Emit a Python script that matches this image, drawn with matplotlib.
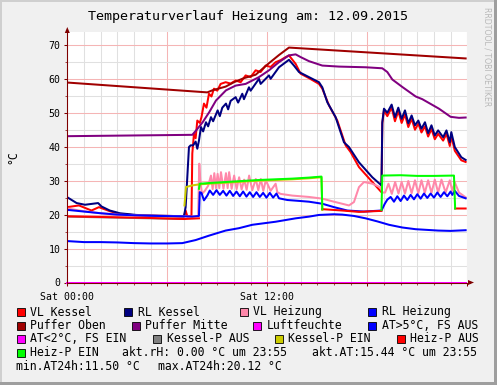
import numpy as np
import matplotlib
matplotlib.use("Agg")
import matplotlib.pyplot as plt
from matplotlib.ticker import MultipleLocator, FuncFormatter
from matplotlib.patches import Rectangle, Polygon
from matplotlib.lines import Line2D

nan = float('nan')

# ---------------- data (hours since Sat 00:00, value in °C) ----------------
vl_kessel = [(0, 22.2), (0.7, 22.7), (1.45, 21.2), (1.9, 22.2), (2.0, 22.0), (2.55, 21.0), (3.15, 20.2),
             (4.1, 19.8), (5.5, 19.6), (7.0, 19.4), (7.1, 21.2), (7.2, 19.5), (7.45, 19.6), (7.5, 38.0),
             (7.6, 43.8), (7.7, 42.5), (7.8, 47.7), (7.95, 47.0), (8.05, 48.7), (8.2, 52.7), (8.35, 51.5),
             (8.5, 55.6), (8.65, 54.8), (8.8, 57.1), (9.0, 56.5), (9.2, 58.5), (9.5, 59.0), (9.8, 58.6),
             (10.1, 59.5), (10.4, 59.0), (10.7, 61.0), (11.0, 60.5), (11.3, 62.5), (11.6, 62.0), (11.9, 63.9),
             (12.2, 63.5), (12.5, 64.9), (12.8, 65.5), (13.1, 66.4), (13.3, 66.9), (13.7, 64.4), (14.0, 61.5),
             (14.5, 60.2), (15.1, 58.5), (15.3, 57.1), (15.7, 52.2), (16.2, 47.7), (16.7, 40.4), (17.0, 38.4),
             (17.5, 34.0), (18.3, 29.6), (18.85, 26.6), (18.9, 46.8), (19.0, 50.7), (19.2, 49.0), (19.46, 51.5),
             (19.66, 47.5), (19.86, 50.5), (20.06, 47.0), (20.26, 49.5), (20.46, 45.8), (20.66, 48.2),
             (20.86, 45.0), (21.06, 46.8), (21.25, 44.2), (21.46, 46.0), (21.65, 43.0), (21.85, 45.2),
             (22.05, 42.2), (22.25, 43.8), (22.55, 41.8), (22.75, 43.8), (22.95, 40.2), (23.04, 43.2),
             (23.25, 38.8), (23.64, 36.0), (23.9, 35.5)]

rl_kessel = [(0, 25.1), (0.56, 23.4), (1.06, 22.9), (1.85, 23.4), (2.05, 22.4), (2.55, 21.2), (3.15, 20.4),
             (4.14, 19.9), (5.5, 19.7), (7.0, 19.5), (7.1, 22.2), (7.2, 31.0), (7.3, 39.9), (7.4, 40.4),
             (7.55, 40.4), (7.7, 41.5), (7.8, 39.4), (7.9, 41.8), (8.02, 45.8), (8.15, 44.5), (8.32, 47.2),
             (8.45, 46.0), (8.62, 48.7), (8.75, 47.5), (9.02, 50.7), (9.15, 49.0), (9.3, 51.5), (9.52, 52.7),
             (9.65, 51.0), (9.8, 53.5), (10.1, 54.6), (10.25, 53.0), (10.5, 55.6), (10.6, 54.0), (10.9, 57.5),
             (11.0, 56.5), (11.5, 60.0), (11.6, 58.5), (12.1, 61.0), (12.2, 60.0), (12.7, 63.4), (13.0, 64.5),
             (13.3, 65.6), (13.6, 63.9), (13.9, 62.0), (14.3, 61.0), (15.1, 59.0), (15.3, 57.5), (15.6, 53.1),
             (16.1, 48.7), (16.6, 41.3), (16.9, 39.9), (17.5, 35.4), (18.3, 31.0), (18.85, 28.6), (18.9, 47.2),
             (19.0, 51.2), (19.2, 50.0), (19.46, 52.4), (19.66, 48.7), (19.86, 51.5), (20.06, 48.2),
             (20.26, 50.7), (20.46, 46.9), (20.66, 49.2), (20.86, 46.3), (21.06, 47.7), (21.25, 45.3),
             (21.46, 47.2), (21.65, 44.0), (21.85, 46.3), (22.05, 43.3), (22.25, 44.8), (22.55, 42.8),
             (22.75, 44.8), (22.95, 41.3), (23.04, 44.3), (23.25, 39.9), (23.64, 36.9), (23.9, 36.1)]

vl_heizung = [(0, 21.8), (1, 21.0), (2, 20.4), (3, 20.0), (4, 19.8), (5.5, 19.7), (7.0, 19.5), (7.5, 19.4),
              (7.85, 19.6), (7.92, 35.0), (7.98, 30.0), (8.08, 26.1), (8.25, 27.0), (8.45, 28.5), (8.62, 31.5),
              (8.72, 27.5), (8.82, 32.2), (8.92, 27.8), (9.02, 32.0), (9.12, 27.8), (9.22, 32.5), (9.37, 27.6),
              (9.52, 32.2), (9.62, 27.8), (9.71, 32.5), (9.86, 27.6), (10.01, 31.5), (10.16, 27.5),
              (10.31, 31.0), (10.46, 27.4), (10.61, 30.3), (10.76, 27.3), (10.91, 31.5), (11.1, 27.2),
              (11.31, 30.5), (11.46, 27.2), (11.61, 30.5), (11.76, 27.0), (11.91, 30.1), (12.2, 27.0),
              (12.5, 29.1), (12.6, 26.6), (12.8, 26.1), (13.5, 25.6), (14.5, 25.2), (15.3, 24.7), (16.0, 23.8),
              (16.9, 22.7), (17.2, 23.7), (17.5, 28.1), (17.8, 29.6), (18.3, 29.1), (18.8, 28.0), (18.9, 26.5),
              (19.07, 26.5), (19.27, 29.1), (19.47, 26.1), (19.67, 29.6), (19.87, 26.2), (20.06, 29.6),
              (20.26, 26.2), (20.46, 29.9), (20.66, 26.3), (20.86, 30.1), (21.06, 26.3), (21.25, 30.1),
              (21.45, 26.4), (21.65, 30.1), (21.85, 26.4), (22.05, 30.3), (22.25, 26.5), (22.45, 30.3),
              (22.7, 26.5), (22.95, 30.1), (23.1, 27.0), (23.25, 29.5), (23.5, 26.5), (23.9, 25.1)]

rl_heizung = [(0, 21.4), (1, 20.9), (2, 20.4), (3, 20.0), (4, 19.8), (5.5, 19.6), (7.0, 19.5), (7.5, 19.4),
              (7.9, 19.6), (7.95, 26.6), (8.05, 26.4), (8.2, 24.2), (8.4, 25.6), (8.55, 27.1), (8.75, 25.8),
              (8.95, 27.2), (9.15, 25.8), (9.35, 27.0), (9.55, 25.6), (9.75, 27.0), (9.95, 25.5), (10.15, 26.8),
              (10.35, 25.4), (10.55, 26.8), (10.75, 25.3), (10.95, 26.6), (11.15, 25.2), (11.35, 26.6),
              (11.55, 25.2), (11.75, 26.4), (11.95, 25.0), (12.15, 26.4), (12.35, 25.0), (12.55, 26.2),
              (12.7, 24.8), (13.2, 24.3), (14.0, 24.0), (14.5, 23.8), (15.3, 23.2), (16.0, 22.2), (16.8, 21.2),
              (17.8, 20.9), (18.85, 21.2), (19.05, 23.2), (19.2, 24.4), (19.4, 25.2), (19.6, 23.8), (19.8, 25.4),
              (20.0, 24.0), (20.2, 25.6), (20.4, 24.3), (20.6, 25.8), (20.8, 24.5), (21.0, 26.0), (21.2, 24.7),
              (21.4, 26.2), (21.6, 24.9), (21.8, 26.2), (22.0, 25.0), (22.2, 26.5), (22.4, 25.2), (22.6, 26.6),
              (22.8, 25.4), (23.0, 26.8), (23.1, 25.8), (23.25, 27.0), (23.5, 25.5), (23.9, 24.8)]

puffer_oben = [(0, 58.9), (8.4, 56.0), (8.7, 56.6), (9.5, 57.7), (10.0, 59.0), (10.6, 60.2), (11.3, 61.2),
               (12.1, 64.6), (12.7, 67.0), (13.3, 69.2), (23.9, 66.0)]

puffer_mitte = [(0, 43.1), (7.5, 43.5), (7.73, 44.8), (8.12, 47.2), (8.52, 50.2), (8.92, 53.6), (9.52, 56.6),
                (10.1, 58.0), (10.7, 58.5), (11.5, 60.5), (12.1, 62.5), (12.7, 64.9), (13.3, 66.9), (13.7, 67.2),
                (14.0, 66.4), (14.5, 65.2), (15.3, 63.9), (16.3, 63.6), (17.9, 63.4), (18.9, 63.1), (19.2, 62.0),
                (19.5, 59.8), (20.1, 57.6), (20.9, 54.8), (21.3, 54.0), (22.3, 51.2), (23.0, 48.8), (23.5, 48.5),
                (23.9, 48.6)]

luftfeuchte = [(0, 0.0), (23.9, 0.0)]

aussen_temp = [(0, 12.2), (1, 11.9), (2, 11.9), (3, 11.8), (4, 11.6), (5, 11.5), (6, 11.5), (6.9, 11.6),
               (7.7, 12.5), (8.5, 13.8), (9.5, 15.3), (10.3, 16.0), (11.1, 17.0), (12.5, 17.9), (13.7, 18.9),
               (14.5, 19.4), (15.1, 19.9), (16.0, 20.1), (16.5, 20.0), (17.2, 19.6), (17.9, 18.9), (18.6, 18.0),
               (19.3, 17.0), (20.1, 16.2), (20.9, 15.7), (22.25, 15.3), (23.0, 15.2), (23.9, 15.4)]

kessel_p_aus = [(0, 19.4), (7.03, 18.7)]
kessel_p_ein = [(7.03, 22.7), (7.12, 28.1), (7.5, 28.6), (7.9, 28.9), (8.5, 29.1), (9.5, 29.4), (10.5, 29.7),
                (11.5, 30.0), (12.5, 30.2), (13.5, 30.4), (14.5, 30.7), (15.25, 31.0), (15.3, 21.4)]
heiz_p_aus = [(0, 19.5), (3, 19.2), (5, 19.0), (7.0, 18.7), (7.9, 18.9), (nan, nan),
              (15.3, 21.6), (16.5, 21.2), (17.5, 20.8), (18.85, 21.1), (nan, nan),
              (23.27, 21.8), (23.9, 21.8)]
heiz_p_ein = [(7.9, 27.6), (7.95, 29.1), (8.5, 29.3), (9.5, 29.6), (10.5, 29.9), (11.5, 30.2), (12.5, 30.4),
              (13.5, 30.6), (14.5, 30.9), (15.25, 31.2), (15.3, 21.6), (nan, nan),
              (18.85, 21.4), (18.9, 31.5), (20.0, 31.6), (21.0, 31.4), (22.0, 31.4), (23.2, 31.5), (23.27, 21.8)]

legend_labels = ['VL Kessel', 'RL Kessel', 'VL Heizung', 'RL Heizung',
                 'Puffer Oben', 'Puffer Mitte', 'Luftfeuchte', 'AT>5°C, FS AUS',
                 'AT<2°C, FS EIN', 'Kessel-P AUS', 'Kessel-P EIN', 'Heiz-P AUS', 'Heiz-P EIN']
legend_colors = ['#FF0000', '#000080', '#FF88AA', '#0000FF',
                 '#A00000', '#800080', '#FF00FF', '#0000FF',
                 '#FF00FF', '#808080', '#CCCC00', '#FF0000', '#00FF00']

title = 'Temperaturverlauf Heizung am: 12.09.2015'
akt_rh = 0.00
akt_at = 15.44
min_at = 11.50
max_at = 20.12
time_last = '23:55'
x_tick_labels = {0: 'Sat 00:00', 12: 'Sat 12:00'}

# ---------------- layout ----------------
W, H = 497, 385
MONO = 'DejaVu Sans Mono'
fig = plt.figure(figsize=(W / 100, H / 100), dpi=100)
fig.patch.set_facecolor('#F0F0F0')


def px(x, y):
    return (x / W, 1 - y / H)


# 3D-ish border (rrdtool shades)
fig.add_artist(Rectangle((0, 0), 1, 1, transform=fig.transFigure, facecolor='none', edgecolor='none'))
fig.add_artist(Rectangle(px(0, 385), 2 / W, 385 / H, transform=fig.transFigure, color='#CFCFCF', lw=0))
fig.add_artist(Rectangle(px(0, 2), 1, 2 / H, transform=fig.transFigure, color='#CFCFCF', lw=0))
fig.add_artist(Rectangle(px(494, 385), 3 / W, 385 / H, transform=fig.transFigure, color='#9E9E9E', lw=0))
fig.add_artist(Rectangle(px(0, 385), 1, 3 / H, transform=fig.transFigure, color='#9E9E9E', lw=0))

left, right, top, bottom = 67.3, 467.3, 32.3, 282.5
ax = fig.add_axes([left / W, (H - bottom) / H, (right - left) / W, (bottom - top) / H])
ax.set_facecolor('#FFFFFF')
ax.set_xlim(0, 24)
ax.set_ylim(0, 73.7)

ax.xaxis.set_major_locator(MultipleLocator(6))
ax.xaxis.set_minor_locator(MultipleLocator(1))
ax.yaxis.set_major_locator(MultipleLocator(10))
ax.yaxis.set_minor_locator(MultipleLocator(5))
ax.xaxis.set_major_formatter(FuncFormatter(lambda v, p: x_tick_labels.get(int(round(v)), '')))
ax.yaxis.set_major_formatter(FuncFormatter(lambda v, p: '%d' % v))
ax.grid(which='minor', color='#E0E0E0', lw=0.75)
ax.grid(which='major', color='#F5B5B5', lw=0.75)
ax.set_axisbelow(True)
ax.tick_params(which='major', length=2.5, width=0.75, color='#7F0000', labelsize=7.1, pad=2.5)
ax.tick_params(which='minor', length=1.5, width=0.5, color='#7F0000')
for lab in ax.get_xticklabels() + ax.get_yticklabels():
    lab.set_fontfamily(MONO)
ax.tick_params(axis='x', pad=4)
for s in ['top', 'right']:
    ax.spines[s].set_visible(False)
for s in ['left', 'bottom']:
    ax.spines[s].set_color('#7F0000')
    ax.spines[s].set_linewidth(0.75)

LW = 1.45


def draw(series, color, z, clip=True):
    t = [p[0] for p in series]
    v = [p[1] for p in series]
    ax.plot(t, v, color=color, lw=LW, zorder=z, solid_joinstyle='round', clip_on=clip)


draw(vl_kessel, '#FF0000', 3)
draw(rl_kessel, '#000080', 4)
draw(vl_heizung, '#FF88AA', 5)
draw(rl_heizung, '#0000FF', 6)
draw(puffer_oben, '#A00000', 7)
draw(puffer_mitte, '#800080', 8)
draw(luftfeuchte, '#FF00FF', 9, clip=False)
draw(aussen_temp, '#0000FF', 10)
draw(kessel_p_aus, '#808080', 11)
draw(kessel_p_ein, '#CCCC00', 12)
draw(heiz_p_aus, '#FF0000', 13)
draw(heiz_p_ein, '#00FF00', 14)

# axis extensions and arrows
fig.add_artist(Line2D([left / W, left / W], [1 - bottom / H, 1 - 30 / H], transform=fig.transFigure,
                      color='#7F0000', lw=0.75))
fig.add_artist(Line2D([left / W, 470 / W], [1 - bottom / H, 1 - bottom / H], transform=fig.transFigure,
                      color='#7F0000', lw=0.75))
fig.add_artist(Polygon([px(left - 2.5, 33), px(left + 2.5, 33), px(left, 27)], closed=True,
                       transform=fig.transFigure, color='#7F0000', lw=0))
fig.add_artist(Polygon([px(468, bottom - 2.5), px(468, bottom + 2.5), px(474, bottom)], closed=True,
                       transform=fig.transFigure, color='#7F0000', lw=0))

# texts
fig.text(*px(248, 16.5), title, ha='center', va='center', fontsize=9.6, family=MONO)
fig.text(*px(13, 157), '°C', ha='center', va='center', rotation=90, fontsize=8.3, family=MONO)
fig.text(*px(487, 7), 'RRDTOOL / TOBI OETIKER', ha='center', va='top', rotation=270,
         fontsize=5.6, color='#B8B8B8', family='DejaVu Sans')

# legend
box_pos = [(16.7, 312), (124, 312), (240, 312), (368.3, 312),
           (16.7, 325.5), (131.7, 325.5), (253.3, 325.5), (368.3, 325.5),
           (16.7, 339), (153.3, 339), (275, 339), (396.7, 339),
           (16.7, 353)]
FS = 8.3
for lab, col, (bx, by) in zip(legend_labels, legend_colors, box_pos):
    fig.add_artist(Rectangle(px(bx, by + 4), 8 / W, 8 / H, transform=fig.transFigure,
                             facecolor=col, edgecolor='#000000', lw=0.6))
    fig.text(*px(bx + 13.5, by), lab, ha='left', va='center', fontsize=FS, family=MONO)

fig.text(*px(122, 353), 'akt.rH: %.2f °C um %s' % (akt_rh, time_last), ha='left', va='center',
         fontsize=FS, family=MONO)
fig.text(*px(311.5, 353), 'akt.AT:%.2f °C um %s' % (akt_at, time_last), ha='left', va='center',
         fontsize=FS, family=MONO)
fig.text(*px(16, 366.5), 'min.AT24h:%.2f °C' % min_at, ha='left', va='center', fontsize=FS, family=MONO)
fig.text(*px(158, 366.5), 'max.AT24h:%.2f °C' % max_at, ha='left', va='center', fontsize=FS, family=MONO)

fig.savefig('out.png', dpi=100, facecolor=fig.get_facecolor())
